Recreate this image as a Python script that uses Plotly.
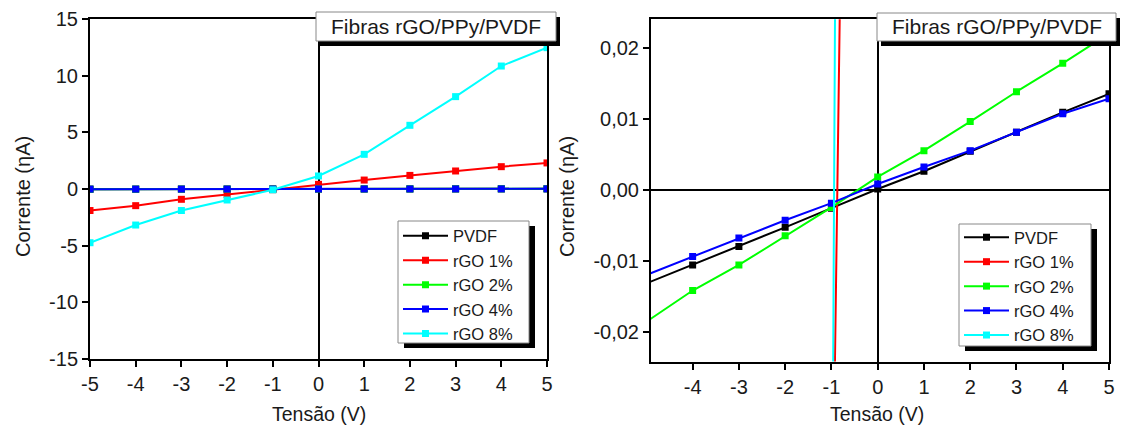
import plotly.graph_objects as go

# I-V curves of rGO/PPy/PVDF fibres (current in nA, voltage in V)
tensao = [-5, -4, -3, -2, -1, 0, 1, 2, 3, 4, 5]
pvdf = [-0.0131, -0.0105, -0.0079, -0.0052, -0.0025, 0.0002, 0.0027, 0.0055, 0.0082, 0.0110, 0.0136]
rgo_1 = [-1.90, -1.47, -0.91, -0.48, -0.06, 0.41, 0.79, 1.20, 1.59, 1.97, 2.30]
rgo_2 = [-0.0185, -0.0141, -0.0105, -0.0064, -0.0024, 0.0019, 0.0056, 0.0097, 0.0139, 0.0179, 0.0221]
rgo_4 = [-0.0119, -0.0093, -0.0067, -0.0042, -0.0018, 0.0009, 0.0033, 0.0056, 0.0082, 0.0108, 0.0129]
rgo_8 = [-4.74, -3.18, -1.90, -0.97, -0.07, 1.15, 3.06, 5.62, 8.15, 10.85, 12.47]

series_names = ["PVDF", "rGO 1%", "rGO 2%", "rGO 4%", "rGO 8%"]
series_values = [pvdf, rgo_1, rgo_2, rgo_4, rgo_8]
series_colors = ["#000000", "#ff0000", "#00ff00", "#0000ff", "#00ffff"]

# tick labels
x_ticks_left = [-5, -4, -3, -2, -1, 0, 1, 2, 3, 4, 5]
x_ticktext_left = ["-5", "-4", "-3", "-2", "-1", "0", "1", "2", "3", "4", "5"]
y_ticks_left = [-15, -10, -5, 0, 5, 10, 15]
y_ticktext_left = ["-15", "-10", "-5", "0", "5", "10", "15"]
x_ticks_right = [-4, -3, -2, -1, 0, 1, 2, 3, 4, 5]
x_ticktext_right = ["-4", "-3", "-2", "-1", "0", "1", "2", "3", "4", "5"]
y_ticks_right = [-0.02, -0.01, 0.0, 0.01, 0.02]
y_ticktext_right = ["-0,02", "-0,01", "0,00", "0,01", "0,02"]

titulo = "Fibras rGO/PPy/PVDF"
x_label = "Tensão (V)"
y_label = "Corrente (ηA)"

FONT = "Liberation Sans, Arial, sans-serif"
TXT = "#1a1a1a"
W, H = 1121, 429
LEG_FONT = 16.5

fig = go.Figure()

for xa, ya, leg in (("x", "y", "legend"), ("x2", "y2", "legend2")):
    for name, vals, col in zip(series_names, series_values, series_colors):
        fig.add_trace(go.Scatter(
            x=tensao, y=vals, name=name, mode="lines+markers",
            line=dict(color=col, width=2),
            marker=dict(symbol="square", size=7, color=col),
            xaxis=xa, yaxis=ya, legend=leg, showlegend=True,
        ))


def px_x(p):
    return p / W


def px_y(p):
    return 1 - p / H


axis_common = dict(
    showline=True, linecolor="black", linewidth=2, mirror=True,
    ticks="outside", ticklen=6, tickwidth=2, tickcolor="black",
    showgrid=False, zeroline=True, zerolinecolor="black", zerolinewidth=2,
    tickfont=dict(family=FONT, size=20, color=TXT), automargin=False,
)

# legend entries sit on a framed box drawn as shapes below
legend_common = dict(
    xanchor="left", yanchor="top",
    bgcolor="rgba(0,0,0,0)", borderwidth=0,
    font=dict(family=FONT, size=LEG_FONT, color=TXT), itemwidth=45,
    tracegroupgap=0,
)

fig.update_layout(
    width=W, height=H,
    margin=dict(l=0, r=0, t=0, b=0, autoexpand=False),
    paper_bgcolor="white", plot_bgcolor="white",
    font=dict(family=FONT, color=TXT),
    xaxis=dict(domain=[px_x(90), px_x(547)], range=[-5, 5], anchor="y",
               tickvals=x_ticks_left, ticktext=x_ticktext_left, **axis_common),
    yaxis=dict(domain=[px_y(359), px_y(19)], range=[-15, 15], anchor="x",
               tickvals=y_ticks_left, ticktext=y_ticktext_left, **axis_common),
    xaxis2=dict(domain=[px_x(651), px_x(1109)], range=[-4.9, 5], anchor="y2",
                tickvals=x_ticks_right, ticktext=x_ticktext_right, **axis_common),
    yaxis2=dict(domain=[px_y(361.5), px_y(19.3)], range=[-0.0241, 0.0241], anchor="x2",
                tickvals=y_ticks_right, ticktext=y_ticktext_right, **axis_common),
    legend=dict(x=px_x(398), y=px_y(218.5), **legend_common),
    legend2=dict(x=px_x(959), y=px_y(220), **legend_common),
    showlegend=True,
)

shapes = []
# framed boxes with drop shadow: two legends, two titles
boxes = [
    ((398, 221, 529, 343), 6, 5),
    ((959, 224, 1091, 346), 6, 5),
    ((316, 12, 556, 41), 4, 5),
    ((877, 13, 1116, 41), 4, 5),
]
for (x0, y0, x1, y1), dx, dy in boxes:
    shapes.append(dict(type="rect", xref="paper", yref="paper",
                       x0=px_x(x0 + dx), x1=px_x(x1 + dx), y0=px_y(y1 + dy), y1=px_y(y0 + dy),
                       fillcolor="black", line=dict(width=0), layer="above"))
    shapes.append(dict(type="rect", xref="paper", yref="paper",
                       x0=px_x(x0), x1=px_x(x1), y0=px_y(y1), y1=px_y(y0),
                       fillcolor="white", line=dict(color="#888888", width=1), layer="above"))
fig.update_layout(shapes=shapes)

annotations = []
for cx in ((316 + 556) / 2, (877 + 1116) / 2):
    annotations.append(dict(text=titulo, xref="paper", yref="paper",
                            x=px_x(cx), y=px_y(26.5), showarrow=False,
                            xanchor="center", yanchor="middle",
                            font=dict(family=FONT, size=21, color=TXT)))
for cx in (318.5, 877.3):
    annotations.append(dict(text=x_label, xref="paper", yref="paper",
                            x=px_x(cx), y=px_y(414), showarrow=False,
                            xanchor="center", yanchor="middle",
                            font=dict(family=FONT, size=19.5, color=TXT)))
for cx in (23, 567):
    annotations.append(dict(text=y_label, xref="paper", yref="paper",
                            x=px_x(cx), y=px_y(197), showarrow=False, textangle=-90,
                            xanchor="center", yanchor="middle",
                            font=dict(family=FONT, size=20, color=TXT)))
fig.update_layout(annotations=annotations)

fig.write_html("out.html")
